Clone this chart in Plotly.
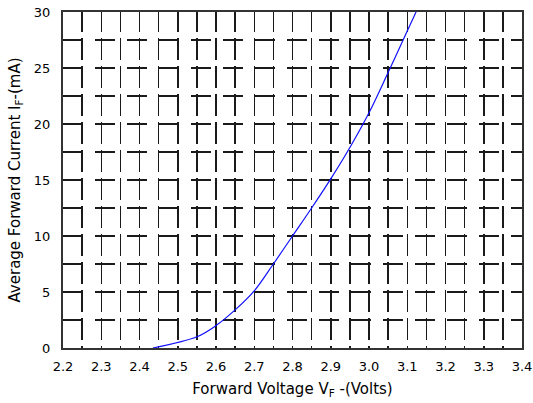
import plotly.graph_objects as go

# Forward voltage (V) and average forward current (mA)
vf = [2.435, 2.55, 2.60, 2.65, 2.70, 2.75, 2.80, 2.85, 2.90, 2.95, 3.00, 3.05, 3.10, 3.123]
if_ma = [0.0, 1.0, 2.0, 3.4, 5.1, 7.5, 10.0, 12.5, 15.1, 17.9, 21.0, 24.6, 28.3, 30.0]

x_ticks = [2.2, 2.3, 2.4, 2.5, 2.6, 2.7, 2.8, 2.9, 3.0, 3.1, 3.2, 3.3, 3.4]
x_tick_labels = ["2.2", "2.3", "2.4", "2.5", "2.6", "2.7", "2.8", "2.9", "3.0", "3.1", "3.2", "3.3", "3.4"]
y_ticks = [0, 5, 10, 15, 20, 25, 30]

FONT = "DejaVu Sans, Liberation Sans, Arial, sans-serif"
GRID = "#1a1a1a"
VDASH = "19.96px,6px,2px,0px"
HDASH = "20px,12px"

fig = go.Figure()
fig.add_trace(go.Scatter(x=vf, y=if_ma, mode="lines",
                         line=dict(color="#1010ff", width=1.2, shape="spline", smoothing=1.0),
                         showlegend=False, hoverinfo="skip"))

fig.update_layout(
    width=533, height=403,
    margin=dict(l=63, r=11, t=12, b=55),
    paper_bgcolor="white", plot_bgcolor="white",
    font=dict(family=FONT, size=13, color="black"),
    xaxis=dict(
        range=[2.2, 3.4], tickvals=x_ticks, ticktext=x_tick_labels,
        showgrid=True, gridcolor=GRID, gridwidth=1.5, griddash=VDASH,
        minor=dict(dtick=0.05, tick0=2.2, showgrid=True, gridcolor=GRID,
                   gridwidth=1.5, griddash=VDASH),
        showline=True, mirror=True, linecolor="#333333", linewidth=2,
        ticks="outside", ticklen=5, tickcolor="rgba(0,0,0,0)",
        zeroline=False, automargin=False,
        title=dict(text="Forward Voltage V<sub>F</sub> -(Volts)",
                   font=dict(size=15), standoff=11),
        fixedrange=True,
    ),
    yaxis=dict(
        range=[0, 30], tickvals=y_ticks,
        showgrid=True, gridcolor=GRID, gridwidth=1.5, griddash=HDASH,
        minor=dict(dtick=2.5, tick0=0, showgrid=True, gridcolor=GRID,
                   gridwidth=1.5, griddash=HDASH),
        showline=True, mirror=True, linecolor="#333333", linewidth=2,
        ticks="outside", ticklen=8, tickcolor="rgba(0,0,0,0)",
        zeroline=False, automargin=False,
        title=dict(text="Average Forward Current I<sub>F</sub>-(mA)",
                   font=dict(size=15), standoff=10),
        fixedrange=True,
    ),
)

fig.write_html(
    "out.html",
    config={"displayModeBar": False, "staticPlot": True},
    post_script="document.body.style.margin='0';document.body.style.overflow='hidden';",
)
